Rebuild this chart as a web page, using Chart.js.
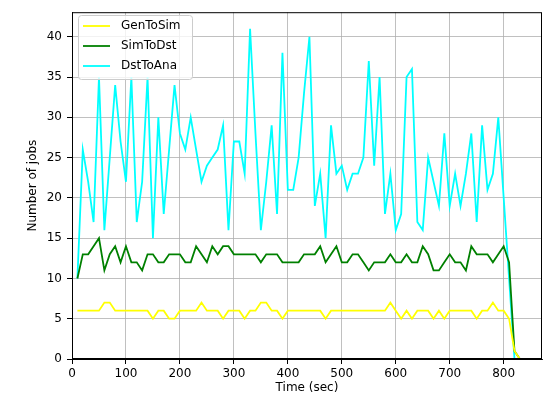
<!DOCTYPE html>
<html>
<head>
<meta charset="utf-8">
<script src="https://cdn.jsdelivr.net/npm/chart.js@4.4.0/dist/chart.umd.min.js"></script>
<style>
  body { margin: 0; background: #fff; }
  #wrap { width: 543px; height: 398px; }
</style>
</head>
<body>
<div id="wrap"><canvas id="jobsChart" width="543" height="398"></canvas></div>
<script>
// Tijd in seconden (elke 10 s)
const times = [
  10, 20, 30, 40, 50, 60, 70, 80, 90, 100,
  110, 120, 130, 140, 150, 160, 170, 180, 190, 200,
  210, 220, 230, 240, 250, 260, 270, 280, 290, 300,
  310, 320, 330, 340, 350, 360, 370, 380, 390, 400,
  410, 420, 430, 440, 450, 460, 470, 480, 490, 500,
  510, 520, 530, 540, 550, 560, 570, 580, 590, 600,
  610, 620, 630, 640, 650, 660, 670, 680, 690, 700,
  710, 720, 730, 740, 750, 760, 770, 780, 790, 800,
  810, 820, 830
];

const genToSim = [
  6, 6, 6, 6, 6, 7, 7, 6, 6, 6,
  6, 6, 6, 6, 5, 6, 6, 5, 5, 6,
  6, 6, 6, 7, 6, 6, 6, 5, 6, 6,
  6, 5, 6, 6, 7, 7, 6, 6, 5, 6,
  6, 6, 6, 6, 6, 6, 5, 6, 6, 6,
  6, 6, 6, 6, 6, 6, 6, 6, 7, 6,
  5, 6, 5, 6, 6, 6, 5, 6, 5, 6,
  6, 6, 6, 6, 5, 6, 6, 7, 6, 6,
  5, 1, 0
];

const simToDst = [
  10, 13, 13, 14, 15, 11, 13, 14, 12, 14,
  12, 12, 11, 13, 13, 12, 12, 13, 13, 13,
  12, 12, 14, 13, 12, 14, 13, 14, 14, 13,
  13, 13, 13, 13, 12, 13, 13, 13, 12, 12,
  12, 12, 13, 13, 13, 14, 12, 13, 14, 12,
  12, 13, 13, 12, 11, 12, 12, 12, 13, 12,
  12, 13, 12, 12, 14, 13, 11, 11, 12, 13,
  12, 12, 11, 14, 13, 13, 13, 12, 13, 14,
  12, 1, 0
];

const dstToAna = [
  10, 26, 22, 17, 35, 16, 25, 34, 27, 22,
  35, 17, 22, 35, 15, 30, 18, 26, 34, 28,
  26, 30, 26, 22, 24, 25, 26, 29, 16, 27,
  27, 23, 41, 28, 16, 22, 29, 18, 38, 21,
  21, 25, 33, 40, 19, 23, 15, 29, 23, 24,
  21, 23, 23, 25, 37, 24, 35, 18, 23, 16,
  18, 35, 36, 17, 16, 25, 22, 19, 28, 19,
  23, 19, 23, 28, 17, 29, 21, 23, 30, 20,
  10, 0
];

const seriesNames = ["GenToSim", "SimToDst", "DstToAna"];
const seriesColors = ["#ffff00", "#008000", "#00ffff"];
const xTicks = [0, 100, 200, 300, 400, 500, 600, 700, 800];
const yTicks = [0, 5, 10, 15, 20, 25, 30, 35, 40];

const FONT = "DejaVu Sans";
Chart.defaults.color = "#000";
Chart.defaults.font.family = FONT;
Chart.defaults.font.size = 12;

function toPoints(vals) {
  return vals.map((v, i) => ({ x: times[i], y: v }));
}

// rechter- en bovenrand van de assen
const framePlugin = {
  id: "frame",
  afterDatasetsDraw(chart) {
    const a = chart.chartArea;
    const ctx = chart.ctx;
    ctx.save();
    ctx.strokeStyle = "#000";
    ctx.lineWidth = 1;
    ctx.strokeRect(a.left + 0.5, a.top + 0.5, a.right - a.left - 1, a.bottom - a.top - 1);
    ctx.restore();
  }
};

// legenda linksboven in het plotvlak (zoals matplotlib)
const legendPlugin = {
  id: "innerLegend",
  afterDraw(chart) {
    const ctx = chart.ctx;
    const x0 = 78, y0 = 15, w = 114, h = 64, r = 3;
    ctx.save();
    ctx.beginPath();
    ctx.roundRect(x0 + 0.5, y0 + 0.5, w, h, r);
    ctx.fillStyle = "rgba(255,255,255,0.8)";
    ctx.fill();
    ctx.strokeStyle = "#cccccc";
    ctx.lineWidth = 1;
    ctx.stroke();
    ctx.font = "12px '" + FONT + "'";
    ctx.textBaseline = "middle";
    seriesNames.forEach((name, i) => {
      const y = 26 + i * 20;
      ctx.beginPath();
      ctx.moveTo(83, y);
      ctx.lineTo(110, y);
      ctx.strokeStyle = seriesColors[i];
      ctx.lineWidth = 1.8;
      ctx.stroke();
      ctx.fillStyle = "#000";
      ctx.fillText(name, 121, y);
    });
    ctx.restore();
  }
};

const allSeries = [genToSim, simToDst, dstToAna];

new Chart(document.getElementById("jobsChart"), {
  type: "line",
  data: {
    datasets: allSeries.map((vals, i) => ({
      label: seriesNames[i],
      data: toPoints(vals),
      borderColor: seriesColors[i],
      backgroundColor: seriesColors[i],
      borderWidth: 1.8,
      pointRadius: 0,
      tension: 0,
      fill: false
    }))
  },
  options: {
    responsive: false,
    animation: false,
    layout: { padding: { top: 9, right: 1, left: 0, bottom: 0 } },
    plugins: {
      legend: { display: false },
      tooltip: { enabled: false }
    },
    scales: {
      x: {
        type: "linear",
        min: 0,
        max: 871,
        afterFit(s) { s.height = 39; },
        afterBuildTicks(s) { s.ticks = xTicks.map(v => ({ value: v })); },
        ticks: { padding: 3, maxRotation: 0, autoSkip: false, font: { size: 12 } },
        grid: { color: "#b0b0b0", lineWidth: 0.8, tickLength: 5, tickColor: "#000", tickWidth: 1 },
        border: { color: "#000", width: 1 },
        title: { display: true, text: "Time (sec)", font: { size: 12 }, padding: { top: 0, bottom: 3 } }
      },
      y: {
        min: 0,
        max: 43.05,
        afterFit(s) { s.width = 72; },
        afterBuildTicks(s) { s.ticks = yTicks.map(v => ({ value: v })); },
        ticks: { padding: 5, autoSkip: false, font: { size: 12 } },
        grid: { color: "#b0b0b0", lineWidth: 0.8, tickLength: 5, tickColor: "#000", tickWidth: 1 },
        border: { color: "#000", width: 1 },
        title: { display: true, text: "Number of jobs", font: { size: 12 }, padding: { top: 26, bottom: 0 } }
      }
    }
  },
  plugins: [framePlugin, legendPlugin]
});
</script>
</body>
</html>
